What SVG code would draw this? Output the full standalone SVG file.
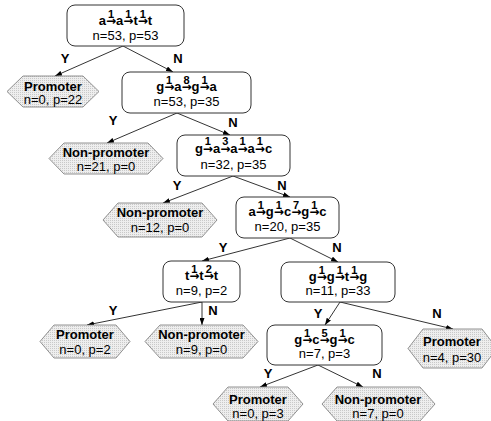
<svg xmlns="http://www.w3.org/2000/svg" width="491" height="421" viewBox="0 0 491 421">
<defs>
  <pattern id="dots" width="2" height="2" patternUnits="userSpaceOnUse">
    <rect width="2" height="2" fill="#eeeeee"/>
    <rect width="1" height="1" fill="#c9c9c9"/>
  </pattern>
  <marker id="ah" viewBox="0 0 7 5" refX="7" refY="2.5" markerWidth="7" markerHeight="5" markerUnits="userSpaceOnUse" orient="auto">
    <path d="M0,0 L7,2.5 L0,5 z" fill="#000"/>
  </marker>
</defs>
<style>
  .box{fill:#fff;stroke:#333;stroke-width:1}
  .hex{fill:url(#dots);stroke:#777;stroke-width:0.8}
  .seq{font-family:"Liberation Sans",Arial,sans-serif;font-weight:bold;font-size:13px;fill:#000}
  .num{font-size:11px}
  .ar{font-size:12px;font-family:"DejaVu Sans",sans-serif;font-weight:bold}
  .cnt{font-family:"Liberation Sans",Arial,sans-serif;font-size:13px;fill:#000}
  .lbl{font-family:"Liberation Sans",Arial,sans-serif;font-weight:bold;font-size:13px;fill:#000}
  .yn{font-family:"Liberation Sans",Arial,sans-serif;font-weight:bold;font-size:13px;fill:#000}
  .edge{stroke:#000;stroke-width:0.8;fill:none;marker-end:url(#ah)}
</style>

<g id="connectors">
  <line class="edge" x1="123" y1="46" x2="55" y2="76"/>
  <line class="edge" x1="123" y1="46" x2="173" y2="72"/>
  <line class="edge" x1="177" y1="113" x2="107" y2="143"/>
  <line class="edge" x1="177" y1="113" x2="230" y2="135"/>
  <line class="edge" x1="233" y1="176" x2="163" y2="203"/>
  <line class="edge" x1="233" y1="176" x2="290" y2="197"/>
  <line class="edge" x1="290" y1="238" x2="202" y2="261"/>
  <line class="edge" x1="290" y1="238" x2="338" y2="262"/>
  <line class="edge" x1="202" y1="302" x2="87" y2="325"/>
  <line class="edge" x1="202" y1="302" x2="202" y2="325"/>
  <line class="edge" x1="340" y1="302" x2="325" y2="325"/>
  <line class="edge" x1="340" y1="302" x2="453" y2="329"/>
  <line class="edge" x1="318" y1="365" x2="260" y2="387"/>
  <line class="edge" x1="318" y1="365" x2="363" y2="387"/>
  <text class="yn" x="65" y="63" text-anchor="middle">Y</text>
  <text class="yn" x="178" y="63" text-anchor="middle">N</text>
  <text class="yn" x="113" y="125" text-anchor="middle">Y</text>
  <text class="yn" x="233" y="127" text-anchor="middle">N</text>
  <text class="yn" x="177" y="190" text-anchor="middle">Y</text>
  <text class="yn" x="282" y="190" text-anchor="middle">N</text>
  <text class="yn" x="223" y="252" text-anchor="middle">Y</text>
  <text class="yn" x="337" y="252" text-anchor="middle">N</text>
  <text class="yn" x="113" y="315" text-anchor="middle">Y</text>
  <text class="yn" x="213" y="315" text-anchor="middle">N</text>
  <text class="yn" x="318" y="318" text-anchor="middle">Y</text>
  <text class="yn" x="437" y="318" text-anchor="middle">N</text>
  <text class="yn" x="268" y="378" text-anchor="middle">Y</text>
  <text class="yn" x="377" y="378" text-anchor="middle">N</text>
</g>

<g id="n1">
  <rect class="box" x="67" y="5" width="117" height="41" rx="8"/>
  <text class="seq" x="125.5" y="25" text-anchor="middle">a<tspan class="num" dx="1.98" dy="-7">1</tspan><tspan class="ar" dx="-8.08" dy="7">→</tspan>a<tspan class="num" dx="1.98" dy="-7">1</tspan><tspan class="ar" dx="-8.08" dy="7">→</tspan>t<tspan class="num" dx="1.98" dy="-7">1</tspan><tspan class="ar" dx="-8.08" dy="7">→</tspan>t</text>
  <text class="cnt" x="125.5" y="40" text-anchor="middle">n=53, p=53</text>
</g>

<g id="leaf1">
  <polygon class="hex" points="7,91.5 23,76 83,76 99,91.5 83,107 23,107"/>
  <text class="lbl" x="53" y="91" text-anchor="middle">Promoter</text>
  <text class="cnt" x="53" y="104" text-anchor="middle">n=0, p=22</text>
</g>

<g id="n2">
  <rect class="box" x="122" y="72" width="129" height="41" rx="8"/>
  <text class="seq" x="186.5" y="91" text-anchor="middle">g<tspan class="num" dx="1.98" dy="-7">1</tspan><tspan class="ar" dx="-8.08" dy="7">→</tspan>a<tspan class="num" dx="1.98" dy="-7">8</tspan><tspan class="ar" dx="-8.08" dy="7">→</tspan>g<tspan class="num" dx="1.98" dy="-7">1</tspan><tspan class="ar" dx="-8.08" dy="7">→</tspan>a</text>
  <text class="cnt" x="186.5" y="106" text-anchor="middle">n=53, p=35</text>
</g>

<g id="leaf2">
  <polygon class="hex" points="49,158.5 64,143 148,143 163,158.5 148,174 64,174"/>
  <text class="lbl" x="106" y="157" text-anchor="middle">Non-promoter</text>
  <text class="cnt" x="106" y="171" text-anchor="middle">n=21, p=0</text>
</g>

<g id="n3">
  <rect class="box" x="177" y="135" width="113" height="41" rx="8"/>
  <text class="seq" x="233.5" y="153" text-anchor="middle">g<tspan class="num" dx="1.98" dy="-8">1</tspan><tspan class="ar" dx="-8.08" dy="8">→</tspan>a<tspan class="num" dx="1.98" dy="-8">3</tspan><tspan class="ar" dx="-8.08" dy="8">→</tspan>a<tspan class="num" dx="1.98" dy="-8">1</tspan><tspan class="ar" dx="-8.08" dy="8">→</tspan>a<tspan class="num" dx="1.98" dy="-8">1</tspan><tspan class="ar" dx="-8.08" dy="8">→</tspan>c</text>
  <text class="cnt" x="233.5" y="169" text-anchor="middle">n=32, p=35</text>
</g>

<g id="leaf3">
  <polygon class="hex" points="103,220 118,203 202,203 217,220 202,237 118,237"/>
  <text class="lbl" x="160" y="217" text-anchor="middle">Non-promoter</text>
  <text class="cnt" x="160" y="232" text-anchor="middle">n=12, p=0</text>
</g>

<g id="n4">
  <rect class="box" x="236" y="197" width="103" height="41" rx="8"/>
  <text class="seq" x="287.5" y="216" text-anchor="middle">a<tspan class="num" dx="1.98" dy="-7">1</tspan><tspan class="ar" dx="-8.08" dy="7">→</tspan>g<tspan class="num" dx="1.98" dy="-7">1</tspan><tspan class="ar" dx="-8.08" dy="7">→</tspan>c<tspan class="num" dx="1.98" dy="-7">7</tspan><tspan class="ar" dx="-8.08" dy="7">→</tspan>g<tspan class="num" dx="1.98" dy="-7">1</tspan><tspan class="ar" dx="-8.08" dy="7">→</tspan>c</text>
  <text class="cnt" x="287.5" y="231" text-anchor="middle">n=20, p=35</text>
</g>

<g id="n5">
  <rect class="box" x="163" y="261" width="77" height="41" rx="8"/>
  <text class="seq" x="201.5" y="280" text-anchor="middle">t<tspan class="num" dx="1.98" dy="-7">1</tspan><tspan class="ar" dx="-8.08" dy="7">→</tspan>t<tspan class="num" dx="1.98" dy="-7">2</tspan><tspan class="ar" dx="-8.08" dy="7">→</tspan>t</text>
  <text class="cnt" x="201.5" y="295" text-anchor="middle">n=9, p=2</text>
</g>

<g id="n6">
  <rect class="box" x="281" y="262" width="114" height="40" rx="8"/>
  <text class="seq" x="338" y="281" text-anchor="middle">g<tspan class="num" dx="1.98" dy="-7">1</tspan><tspan class="ar" dx="-8.08" dy="7">→</tspan>g<tspan class="num" dx="1.98" dy="-7">1</tspan><tspan class="ar" dx="-8.08" dy="7">→</tspan>t<tspan class="num" dx="1.98" dy="-7">1</tspan><tspan class="ar" dx="-8.08" dy="7">→</tspan>g</text>
  <text class="cnt" x="338" y="295" text-anchor="middle">n=11, p=33</text>
</g>

<g id="leaf4">
  <polygon class="hex" points="40,341.5 54,325 116,325 130,341.5 116,358 54,358"/>
  <text class="lbl" x="85" y="339" text-anchor="middle">Promoter</text>
  <text class="cnt" x="85" y="354" text-anchor="middle">n=0, p=2</text>
</g>

<g id="leaf5">
  <polygon class="hex" points="145,341.5 160,325 243,325 258,341.5 243,358 160,358"/>
  <text class="lbl" x="201.5" y="339" text-anchor="middle">Non-promoter</text>
  <text class="cnt" x="201.5" y="354" text-anchor="middle">n=9, p=0</text>
</g>

<g id="n7">
  <rect class="box" x="267" y="325" width="115" height="40" rx="8"/>
  <text class="seq" x="324.5" y="344" text-anchor="middle">g<tspan class="num" dx="1.98" dy="-7">1</tspan><tspan class="ar" dx="-8.08" dy="7">→</tspan>c<tspan class="num" dx="1.98" dy="-7">5</tspan><tspan class="ar" dx="-8.08" dy="7">→</tspan>g<tspan class="num" dx="1.98" dy="-7">1</tspan><tspan class="ar" dx="-8.08" dy="7">→</tspan>c</text>
  <text class="cnt" x="324.5" y="358" text-anchor="middle">n=7, p=3</text>
</g>

<g id="leaf6">
  <polygon class="hex" points="408,348.5 423,329 482,329 497,348.5 482,368 423,368"/>
  <text class="lbl" x="452" y="346" text-anchor="middle">Promoter</text>
  <text class="cnt" x="452" y="362" text-anchor="middle">n=4, p=30</text>
</g>

<g id="leaf7">
  <polygon class="hex" points="213,404 228,387 288,387 303,404 288,421 228,421"/>
  <text class="lbl" x="258" y="404" text-anchor="middle">Promoter</text>
  <text class="cnt" x="258" y="418" text-anchor="middle">n=0, p=3</text>
</g>

<g id="leaf8">
  <polygon class="hex" points="322,404 337,387 420,387 435,404 420,421 337,421"/>
  <text class="lbl" x="378" y="404" text-anchor="middle">Non-promoter</text>
  <text class="cnt" x="378" y="418" text-anchor="middle">n=7, p=0</text>
</g>
</svg>
